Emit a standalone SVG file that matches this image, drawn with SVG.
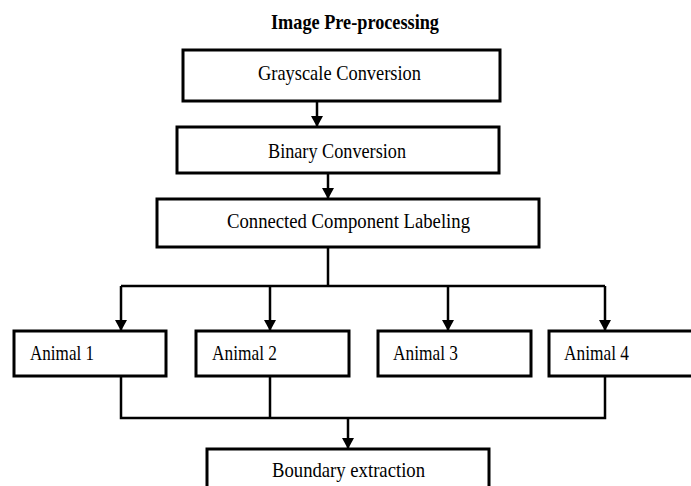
<svg xmlns="http://www.w3.org/2000/svg" width="691" height="486" viewBox="0 0 691 486">
<defs>
<style>
.box{fill:#fff;stroke:#000;stroke-width:3}
.t{font-family:"Liberation Serif","Times New Roman",serif;font-size:21px;fill:#000}
.ln{fill:none;stroke:#000;stroke-width:2.5}
</style>
<marker id="ah" markerUnits="userSpaceOnUse" markerWidth="11" markerHeight="12" refX="11" refY="6" orient="auto" viewBox="0 0 11 12">
<path d="M0,0 L11,6 L0,12 z" fill="#000"/>
</marker>
</defs>
<rect width="691" height="486" fill="#fff"/>
<text class="t" x="271" y="29" font-weight="bold" font-size="20" textLength="168" lengthAdjust="spacingAndGlyphs">Image Pre-processing</text>
<g id="connectors">
<path class="ln" d="M317,101 V127" marker-end="url(#ah)"/>
<path class="ln" d="M328,173 V199" marker-end="url(#ah)"/>
<path class="ln" d="M328,247 V286 M121,286 H605"/>
<path class="ln" d="M121,286 V331" marker-end="url(#ah)"/>
<path class="ln" d="M270,286 V331" marker-end="url(#ah)"/>
<path class="ln" d="M448,286 V331" marker-end="url(#ah)"/>
<path class="ln" d="M605,286 V331" marker-end="url(#ah)"/>
<path class="ln" d="M121,376 V418 H605 V376 M270,376 V418"/>
<path class="ln" d="M348,418 V449" marker-end="url(#ah)"/>
</g>
<g id="grayscale">
<rect class="box" x="183" y="50" width="317" height="51"/>
<text class="t" x="258" y="80" textLength="163" lengthAdjust="spacingAndGlyphs">Grayscale Conversion</text>
</g>
<g id="binary">
<rect class="box" x="177" y="127" width="322" height="46"/>
<text class="t" x="268" y="158" textLength="138" lengthAdjust="spacingAndGlyphs">Binary Conversion</text>
</g>
<g id="ccl">
<rect class="box" x="157" y="199" width="382" height="48"/>
<text class="t" x="227" y="228" textLength="243" lengthAdjust="spacingAndGlyphs">Connected Component Labeling</text>
</g>
<g id="animal1">
<rect class="box" x="14" y="331" width="152" height="45"/>
<text class="t" x="30" y="360" textLength="64" lengthAdjust="spacingAndGlyphs">Animal 1</text>
</g>
<g id="animal2">
<rect class="box" x="196" y="331" width="153" height="45"/>
<text class="t" x="212" y="360" textLength="65" lengthAdjust="spacingAndGlyphs">Animal 2</text>
</g>
<g id="animal3">
<rect class="box" x="378" y="331" width="153" height="45"/>
<text class="t" x="393" y="360" textLength="65" lengthAdjust="spacingAndGlyphs">Animal 3</text>
</g>
<g id="animal4">
<rect class="box" x="549" y="331" width="160" height="45"/>
<text class="t" x="564" y="360" textLength="65" lengthAdjust="spacingAndGlyphs">Animal 4</text>
</g>
<g id="boundary">
<rect class="box" x="207" y="449" width="282" height="50"/>
<text class="t" x="272" y="477" textLength="153" lengthAdjust="spacingAndGlyphs">Boundary extraction</text>
</g>
</svg>
